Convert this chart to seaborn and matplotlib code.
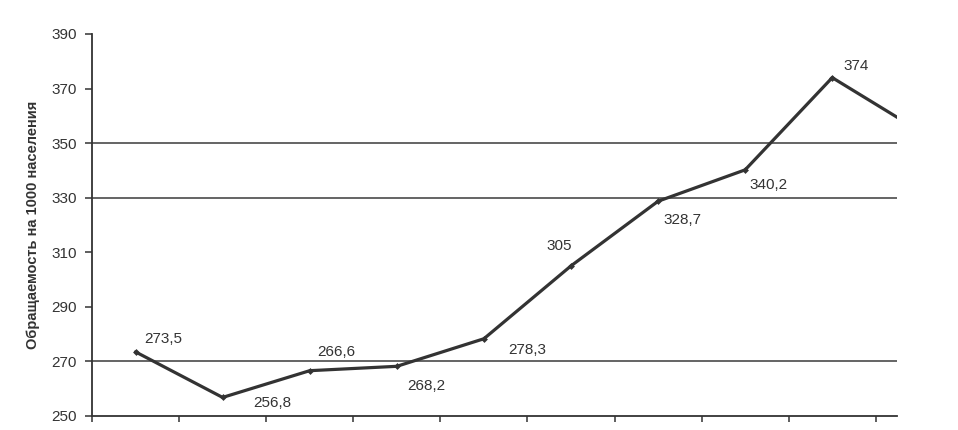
import matplotlib
matplotlib.use("Agg")
import matplotlib.pyplot as plt
import seaborn as sns
import numpy as np
import pandas as pd

# Data
values = [273.5, 256.8, 266.6, 268.2, 278.3, 305, 328.7, 340.2, 374, 354.5]
labeled = [True, True, True, True, True, True, True, True, True, False]
grid_values = [270, 330, 350]
y_ticks = [250, 270, 290, 310, 330, 350, 370, 390]
y_label = "Обращаемость на 1000 населения"

# label offsets in pixels (dx, dy)
label_offsets = [(28, 13), (50, -6), (27, 19), (30, -20), (43, -11),
                 (-12, 20), (24, -19), (23, -15), (24, 12), (0, 0)]

sns.set_style("white")
plt.rcParams['font.family'] = ['Liberation Sans', 'DejaVu Sans']

fig = plt.figure(figsize=(9.58, 4.30), dpi=100)
ax = fig.add_axes([0.096, 0.0326, 0.840, 0.8884])

df = pd.DataFrame({"x": np.arange(len(values)), "y": values})

for g in grid_values:
    ax.axhline(g, color="#3a3a3a", lw=1.1, zorder=1)

sns.lineplot(data=df, x="x", y="y", ax=ax, color="#333333", lw=2.3,
             marker="D", markersize=3.5, markeredgewidth=0, zorder=3)

for i, (v, show) in enumerate(zip(values, labeled)):
    if not show:
        continue
    txt = f"{v:g}".replace(".", ",")
    dx, dy = label_offsets[i]
    ax.annotate(txt, (i, v), xytext=(dx, dy), textcoords="offset pixels",
                ha="center", va="center", fontsize=11, color="#333333")

ax.set_xlim(-0.5, 8.74)
ax.set_ylim(250, 390)
ax.set_yticks(y_ticks)
ax.set_xticks(np.arange(-0.5, 9.0, 1.0))
ax.set_xticklabels([])
ax.set_xlabel("")
ax.set_ylabel(y_label, fontsize=10.5, fontweight="bold", color="#333333", labelpad=8)
ax.tick_params(axis="y", labelsize=11, colors="#333333", length=5, width=1.1,
               direction="out", left=True, pad=6)
ax.tick_params(axis="x", length=4, width=1.1, direction="out", bottom=True,
               colors="#333333")
for s in ["top", "right"]:
    ax.spines[s].set_visible(False)
for s in ["left", "bottom"]:
    ax.spines[s].set_color("#333333")
    ax.spines[s].set_linewidth(1.3)

fig.savefig("out.png", dpi=100)
